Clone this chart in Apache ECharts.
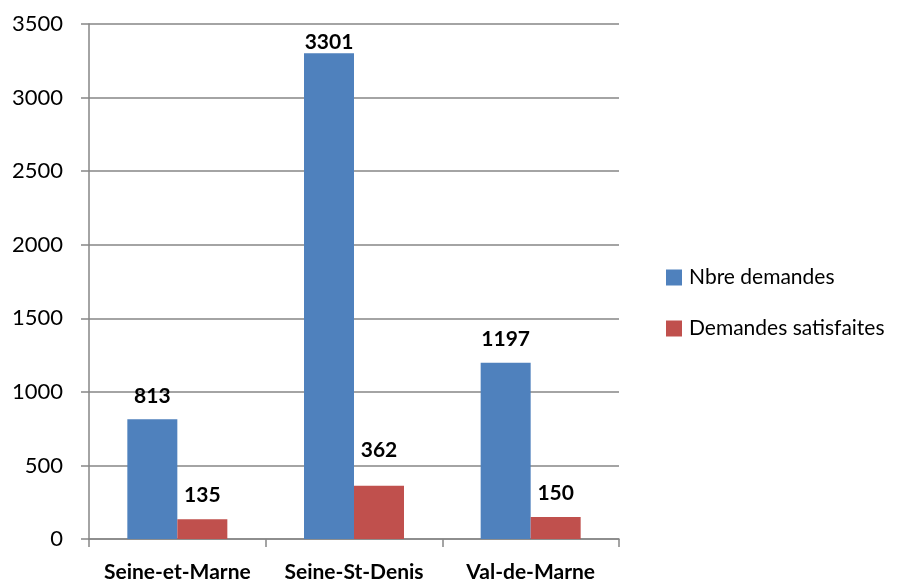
<!DOCTYPE html>
<html>
<head>
<meta charset="utf-8">
<script src="https://cdn.jsdelivr.net/npm/echarts@6/dist/echarts.min.js"></script>
<style>
html, body { margin: 0; padding: 0; background: #fff; }
#chart { width: 903px; height: 584px; }
</style>
</head>
<body>
<div id="chart"></div>
<script>
const categories = ['Seine-et-Marne', 'Seine-St-Denis', 'Val-de-Marne']
const seriesNames = ['Nbre demandes', 'Demandes satisfaites']
const nbreDemandes = [813, 3301, 1197]
const demandesSatisfaites = [135, 362, 150]
const yMin = 0
const yMax = 3500
const yStep = 500

// gap between bar top and its value label, per bar (as placed in the original)
const blueLabelGap = [13, 1, 13]
const redLabelGap = [13, 25, 13]

const font = 'Lato, "Open Sans", sans-serif'
const gridColor = '#868686'

const chart = echarts.init(document.getElementById('chart'))
const labelStyle = {
    show: true,
    position: 'top',
    fontFamily: font,
    fontWeight: 'bold',
    fontSize: 21,
    color: '#000'
}
const toData = (values, gaps) => values.map((v, i) => ({
    value: v,
    label: { distance: gaps[i] }
}))

chart.setOption({
    animation: false,
    textStyle: { fontFamily: font },
    legend: {
        orient: 'vertical',
        left: 661,
        top: 262,
        itemWidth: 16,
        itemHeight: 16,
        itemGap: 30,
        icon: 'rect',
        textStyle: { fontSize: 21, color: '#000', fontFamily: font, padding: [0, 0, 0, 2] },
        data: seriesNames
    },
    grid: {
        left: 89,
        right: 284,
        top: 24,
        bottom: 45
    },
    xAxis: {
        type: 'category',
        data: categories,
        axisLine: { lineStyle: { color: gridColor, width: 1.5 } },
        axisTick: { show: true, length: 8, lineStyle: { color: gridColor, width: 1.5 } },
        axisLabel: {
            interval: 0,
            hideOverlap: false,
            fontSize: 21,
            fontWeight: 'bold',
            color: '#000',
            margin: 23,
            fontFamily: font
        }
    },
    yAxis: {
        type: 'value',
        min: yMin,
        max: yMax,
        interval: yStep,
        axisLine: { show: true, lineStyle: { color: gridColor, width: 1.5 } },
        axisTick: { show: true, length: 8, lineStyle: { color: gridColor, width: 1.5 } },
        splitLine: { lineStyle: { color: gridColor, width: 1.5 } },
        axisLabel: {
            fontSize: 22,
            color: '#000',
            margin: 26,
            fontFamily: font,
            formatter: (v) => String(v)
        }
    },
    series: [
        {
            name: seriesNames[0],
            type: 'bar',
            data: toData(nbreDemandes, blueLabelGap),
            barWidth: 50,
            barGap: '0%',
            itemStyle: { color: '#4F81BD' },
            label: labelStyle
        },
        {
            name: seriesNames[1],
            type: 'bar',
            data: toData(demandesSatisfaites, redLabelGap),
            barWidth: 50,
            barGap: '0%',
            itemStyle: { color: '#C0504D' },
            label: labelStyle
        }
    ]
})
</script>
</body>
</html>
